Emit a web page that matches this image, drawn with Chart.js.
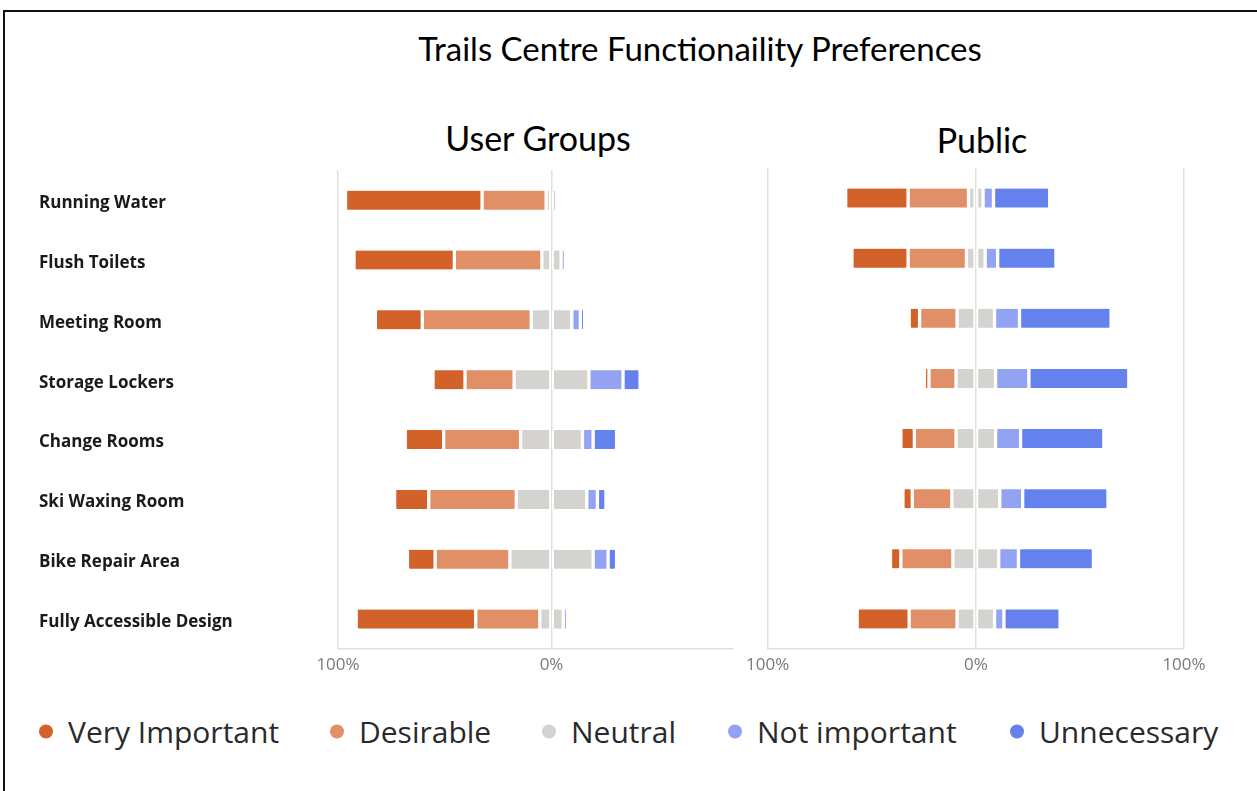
<!DOCTYPE html>
<html>
<head>
<meta charset="utf-8">
<script src="https://cdn.jsdelivr.net/npm/chart.js@4.4.1/dist/chart.umd.min.js"></script>
<style>
  body { margin: 0; width: 1257px; height: 791px; background: #fff; position: relative; overflow: hidden; font-family: "Open Sans", sans-serif; }
  #frame { position: absolute; left: 3px; top: 10px; width: 1300px; height: 900px; border-top: 2px solid #111; border-left: 2px solid #111; }
  .txt { position: absolute; white-space: nowrap; color: #000; font-family: Lato, "Open Sans", sans-serif; transform: translate(-50%, -50%); }
  #leftBox { position: absolute; left: 0; top: 160px; width: 740px; height: 530px; }
  #rightBox { position: absolute; left: 740px; top: 160px; width: 517px; height: 530px; }
  .legend { position: absolute; top: 731px; transform: translateY(-50%); display: flex; align-items: center; font-size: 30px; color: #2a2a2a; white-space: nowrap; }
  .legend span.dot { display: inline-block; width: 14px; height: 14px; border-radius: 50%; margin-left: -7px; margin-right: 15px; }
</style>
</head>
<body>
<div id="frame"></div>
<div class="txt" style="left:700px; top:48px; font-size:33px;">Trails Centre Functionaility Preferences</div>
<div class="txt" style="left:538px; top:137px; font-size:34px;">User Groups</div>
<div class="txt" style="left:982px; top:139px; font-size:34px;">Public</div>
<div id="leftBox"><canvas id="userChart"></canvas></div>
<div id="rightBox"><canvas id="publicChart"></canvas></div>
<div id="legend"></div>
<script>
  const categories = [
    "Running Water",
    "Flush Toilets",
    "Meeting Room",
    "Storage Lockers",
    "Change Rooms",
    "Ski Waxing Room",
    "Bike Repair Area",
    "Fully Accessible Design",
  ];
  const answerLabels = ["Very Important", "Desirable", "Neutral", "Not important", "Unnecessary"];
  const answerColors = ["#D2622A", "#E08F66", "#D5D3CF", "#91A3F2", "#6581EE"];

  // User Groups (% of responses)
  const ugVeryImportant = [64, 47, 22, 15, 18, 16, 13, 56];
  const ugDesirable = [30, 41, 51, 23, 36, 41, 35, 30];
  const ugNeutral = [5, 9, 19, 35, 29, 33, 39, 11];
  const ugNotImportant = [0, 2, 4, 16, 5, 5, 7, 2];
  const ugUnnecessary = [0, 0, 2, 8, 11, 4, 4, 0];

  // Public (% of responses)
  const pubVeryImportant = [30, 27, 5, 2.2, 6.5, 4.5, 5, 25];
  const pubDesirable = [29, 28, 18, 13, 20, 19, 25, 23];
  const pubNeutral = [7, 9, 18, 19, 19, 23, 22, 18];
  const pubNotImportant = [5, 6, 12, 16, 12, 11, 9.5, 4.5];
  const pubUnnecessary = [27, 28, 44, 48, 40, 41, 36, 27];

  const xTicks = [-100, 0, 100];

  // zero answers get no bar at all (a 0 bar would be drawn at the far end of the stack)
  const neg = (arr, f = 1) => arr.map((v) => (v ? -v * f : null));
  const pos = (arr, f = 1) => arr.map((v) => (v ? v * f : null));

  function makeDatasets(vi, des, neu, ni, un) {
    const base = {
      borderColor: "#ffffff",
      borderWidth: { left: 2, right: 2, top: 0, bottom: 0 },
      borderSkipped: false,
      borderRadius: 3,
      barThickness: 19,
      stack: "s",
    };
    return [
      { ...base, label: "Neutral", data: neg(neu, 0.5), backgroundColor: answerColors[2] },
      { ...base, label: "Desirable", data: neg(des), backgroundColor: answerColors[1] },
      { ...base, label: "Very Important", data: neg(vi), backgroundColor: answerColors[0] },
      { ...base, label: "Neutral ", data: pos(neu, 0.5), backgroundColor: answerColors[2] },
      { ...base, label: "Not important", data: pos(ni), backgroundColor: answerColors[3] },
      { ...base, label: "Unnecessary", data: pos(un), backgroundColor: answerColors[4] },
    ];
  }

  function makeOptions(xMax, showY, padding) {
    return {
      indexAxis: "y",
      responsive: true,
      maintainAspectRatio: false,
      animation: false,
      layout: { padding: padding },
      plugins: {
        legend: { display: false },
        tooltip: { enabled: false },
      },
      scales: {
        x: {
          stacked: true,
          min: -100,
          max: xMax,
          grid: { color: "#e0e0e0", lineWidth: 1.5, drawTicks: false },
          border: { color: "#e0e0e0", width: 1.5 },
          ticks: {
            stepSize: 100,
            padding: 6,
            color: "#7a7a7a",
            font: { family: "Open Sans", size: 17 },
            callback: (v) => Math.abs(v) + "%",
          },
          afterBuildTicks: (s) => {
            s.ticks = s.ticks.filter((t) => xTicks.includes(t.value));
          },
          afterFit: (s) => {
            s.height = 40;
          },
        },
        y: {
          stacked: true,
          display: showY,
          grid: { display: false },
          border: { display: false },
          ticks: {
            crossAlign: "far",
            padding: 0,
            labelOffset: 3,
            color: "#1a1a1a",
            font: { family: "Open Sans", size: 17, weight: "bold" },
          },
          afterFit: (s) => {
            s.width = showY ? 299 : 0;
          },
        },
      },
    };
  }

  new Chart(document.getElementById("userChart").getContext("2d"), {
    type: "bar",
    data: {
      labels: categories,
      datasets: makeDatasets(ugVeryImportant, ugDesirable, ugNeutral, ugNotImportant, ugUnnecessary),
    },
    options: makeOptions(85, true, { left: 39, right: 7, top: 8, bottom: 1 }),
  });

  new Chart(document.getElementById("publicChart").getContext("2d"), {
    type: "bar",
    data: {
      labels: categories,
      datasets: makeDatasets(pubVeryImportant, pubDesirable, pubNeutral, pubNotImportant, pubUnnecessary),
    },
    options: makeOptions(100, false, { left: 27, right: 73, top: 8, bottom: 1 }),
  });

  // Legend
  const legendX = [46, 337, 549, 735, 1017];
  const legend = document.getElementById("legend");
  answerLabels.forEach((label, i) => {
    const item = document.createElement("div");
    item.className = "legend";
    item.style.left = legendX[i] + "px";
    item.innerHTML = '<span class="dot" style="background:' + answerColors[i] + '"></span>' + label;
    legend.appendChild(item);
  });
</script>
</body>
</html>
